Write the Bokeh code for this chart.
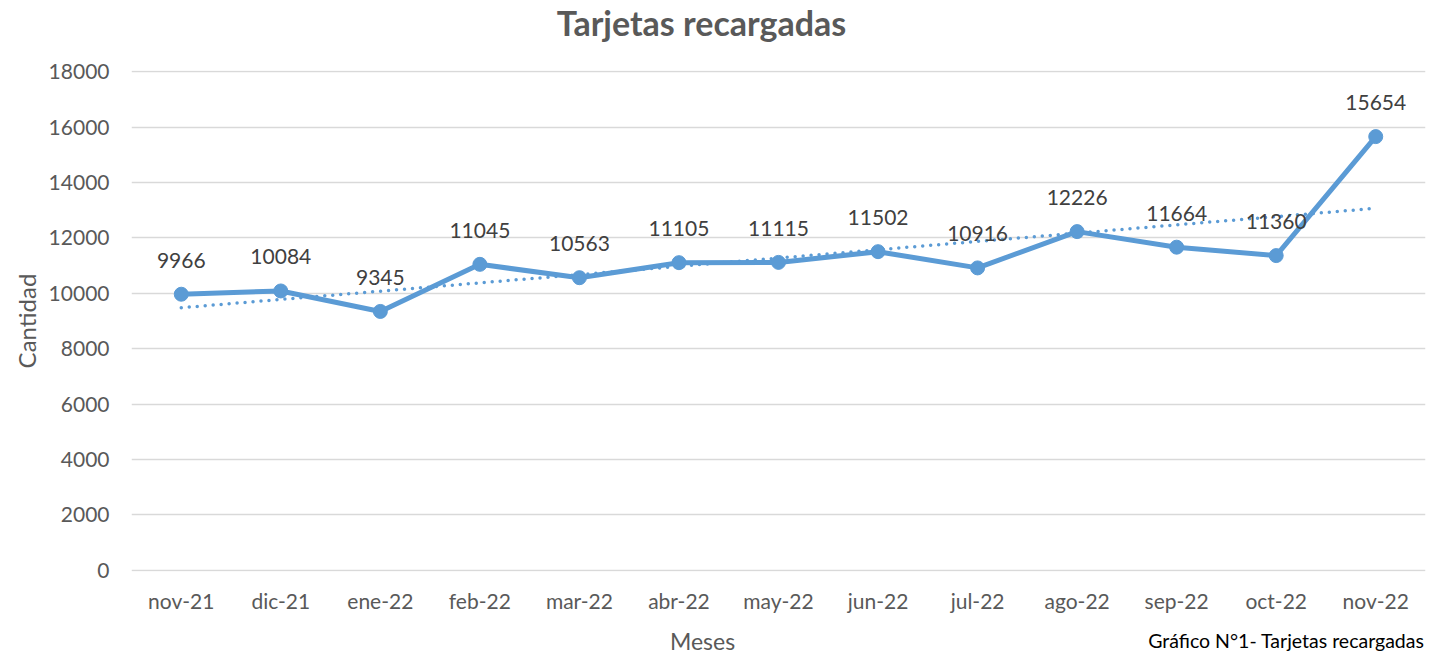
import numpy as np
from bokeh.plotting import figure
from bokeh.layouts import column
from bokeh.models import Range1d, ColumnDataSource, FixedTicker
from bokeh.core.properties import value
from bokeh.embed import file_html
from bokeh.resources import INLINE

meses = ["nov-21", "dic-21", "ene-22", "feb-22", "mar-22", "abr-22", "may-22",
         "jun-22", "jul-22", "ago-22", "sep-22", "oct-22", "nov-22"]
cantidad = [9966, 10084, 9345, 11045, 10563, 11105, 11115,
            11502, 10916, 12226, 11664, 11360, 15654]
y_ticks = [0, 2000, 4000, 6000, 8000, 10000, 12000, 14000, 16000, 18000]

titulo = "Tarjetas recargadas"
eje_x = "Meses"
eje_y = "Cantidad"
pie = "Gráfico N°1- Tarjetas recargadas"

FONT = "Lato"
BLUE = "#5B9BD5"
GRAY = "#595959"
LEFT, RIGHT = 131, 15
W = 1440


def strip(h):
    f = figure(x_range=Range1d(LEFT, W - RIGHT), y_range=Range1d(0, h),
               width=W, height=h, output_backend="svg", toolbar_location=None,
               min_border_left=LEFT, min_border_right=RIGHT,
               min_border_top=0, min_border_bottom=0, outline_line_color=None)
    f.axis.visible = False
    f.grid.visible = False
    return f


idx = np.arange(len(cantidad))
slope, intercept = np.polyfit(idx, cantidad, 1)
trend = list(intercept + slope * idx)

src = ColumnDataSource(dict(x=meses, y=cantidad, t=trend,
                            lbl=[str(v) for v in cantidad]))

# title strip
top = strip(55)
top.text(x=[701], y=[33], text=[titulo], text_font=value(FONT),
         text_font_size="34px", text_font_style="bold", text_color=GRAY,
         text_align="center", text_baseline="alphabetic")

p = figure(x_range=meses, y_range=Range1d(-40, 18040), width=W, height=568,
           output_backend="svg", toolbar_location=None,
           min_border_left=LEFT, min_border_right=RIGHT, min_border_top=15,
           min_border_bottom=52, outline_line_color=None)

p.xgrid.grid_line_color = None
p.ygrid.grid_line_color = "#D9D9D9"
p.ygrid.grid_line_width = 1.3
p.yaxis.ticker = FixedTicker(ticks=y_ticks)

for ax in (p.xaxis, p.yaxis):
    ax.axis_line_color = None
    ax.major_tick_line_color = None
    ax.minor_tick_line_color = None
    ax.major_label_text_font = FONT
    ax.major_label_text_font_size = "21px"
    ax.major_label_text_color = GRAY
    ax.axis_label_text_font = FONT
    ax.axis_label_text_font_size = "24px"
    ax.axis_label_text_font_style = "normal"
    ax.axis_label_text_color = GRAY

p.yaxis.major_label_standoff = 16
p.xaxis.major_label_standoff = 10
p.yaxis.axis_label = eje_y
p.yaxis.axis_label_standoff = 5

p.line("x", "t", source=src, line_color=BLUE, line_width=3.5,
       line_dash="0 8", line_cap="round")
p.line("x", "y", source=src, line_color=BLUE, line_width=5, line_join="round")
p.scatter("x", "y", source=src, size=14, fill_color=BLUE, line_color=BLUE)
p.text("x", "y", text="lbl", source=src, text_font=value(FONT),
       text_font_size="21px", text_color="#404040", text_align="center",
       text_baseline="alphabetic", y_offset=-34)

# bottom strip: x-axis title and caption
bot = strip(30)
bot.text(x=[702], y=[13], text=[eje_x], text_font=value(FONT),
         text_font_size="23px", text_color=GRAY, text_align="center",
         text_baseline="middle")
bot.text(x=[W - RIGHT - 1], y=[13], text=[pie],
         text_font=value(FONT), text_font_size="19.5px", text_color="#000000",
         text_align="right", text_baseline="middle")

layout = column(top, p, bot, spacing=0)
open("out.html", "w").write(file_html(layout, INLINE))
